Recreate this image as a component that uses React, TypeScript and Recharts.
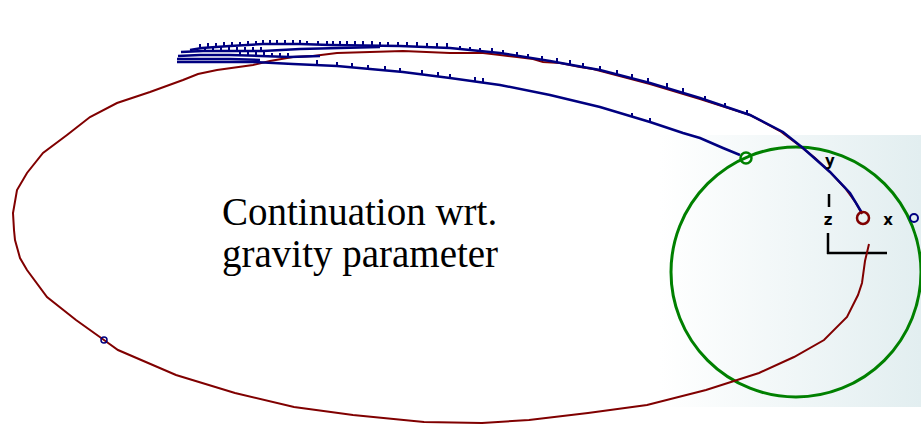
import {
  ScatterChart,
  Scatter,
  XAxis,
  YAxis,
  ReferenceArea,
  ReferenceDot,
  ReferenceLine
} from 'recharts';

// all positions in plot units: x to the right, y downward (0..921 x 0..425)
const redOrbit = [
  [862, 214], [856, 203], [845, 188], [830, 172], [815, 158], [800, 146], [780, 131],
  [750, 115], [700, 99], [650, 84], [593, 69], [580, 67], [560, 63], [543, 62], [533, 59],
  [517, 57], [500, 55], [483, 53], [450, 53], [403, 51], [370, 52], [337, 53], [313, 56],
  [293, 57], [270, 61], [253, 65], [217, 70], [198, 74], [183, 80], [150, 92], [117, 103],
  [90, 117], [67, 135], [43, 153], [27, 173], [17, 190], [13, 213], [14, 230], [15, 240],
  [20, 258], [27, 270], [47, 297], [76, 320], [104, 340], [118, 350], [176, 375],
  [235, 393], [294, 407], [353, 415], [424, 422], [482, 423], [529, 420], [588, 413],
  [647, 405], [706, 390], [759, 373], [794, 357], [824, 340], [847, 317], [858, 295],
  [862, 283], [865, 261], [869, 244]
];

const blueUpper = [
  [190, 50], [202, 48], [230, 46], [263, 44], [300, 44], [330, 45], [400, 46], [450, 48],
  [500, 53], [550, 61], [583, 67], [600, 70], [650, 83], [700, 98], [750, 115], [783, 132],
  [803, 148], [830, 172], [850, 193], [862, 213]
];

const blueMid = [
  [181, 52], [203, 51], [230, 51], [263, 51], [300, 49], [340, 48], [380, 47]
];

const blueInner = [
  [178, 56], [200, 55], [230, 55], [260, 56], [290, 57], [320, 56]
];

const blueInner2 = [
  [177, 59], [200, 59], [230, 59], [260, 60]
];

const blueLower = [
  [177, 62], [200, 62], [253, 62], [293, 64], [337, 66], [403, 72], [450, 78], [500, 85],
  [550, 95], [600, 107], [650, 122], [683, 133], [700, 138], [723, 148], [740, 155]
];

const blueTicks = [
  [263, 44], [270, 44], [277, 44], [285, 44], [293, 44], [300, 44], [307, 45], [318, 45],
  [327, 45], [333, 45], [340, 45], [347, 45], [355, 45], [363, 45], [372, 45], [380, 46],
  [388, 46], [398, 46], [407, 46], [417, 46], [427, 47], [437, 47], [447, 47], [460, 50],
  [470, 51], [480, 52], [492, 52], [503, 54], [517, 56], [528, 58], [542, 60], [557, 62],
  [570, 64], [583, 67], [600, 70], [617, 74], [632, 78], [648, 82], [667, 87], [683, 92],
  [705, 100], [725, 107], [747, 114],
  [317, 64], [337, 66], [352, 67], [368, 69], [385, 70], [400, 72], [422, 74], [438, 76],
  [450, 78], [475, 81], [483, 82], [632, 117], [650, 122],
  [200, 48], [208, 47], [216, 47], [224, 46], [232, 46], [240, 46], [248, 45], [256, 45],
  [205, 51], [213, 51], [221, 51], [229, 51], [237, 51], [245, 51], [253, 51], [261, 51],
  [240, 55], [248, 55], [256, 56], [264, 56], [272, 57], [280, 57], [288, 57]
];

const toPts = (arr: number[][]) => arr.map(([x, y]) => ({ x, y }));

const NoDot = () => <g />;

const Tick = (props: any) => (
  <line x1={props.cx} y1={props.cy} x2={props.cx} y2={props.cy - 4} stroke="#000080" strokeWidth={2} />
);

const Caption = (props: any) => {
  const { x, y } = props.viewBox;
  return (
    <text x={x} y={y} fontFamily="'Liberation Serif', 'Times New Roman', serif" fontSize={39} fill="#000">
      <tspan x={x}>Continuation wrt.</tspan>
      <tspan x={x} dy={42}>gravity parameter</tspan>
    </text>
  );
};

const glyph = (txt: string) => (props: any) => {
  const { x, y } = props.viewBox;
  return (
    <text x={x} y={y} textAnchor="middle" dominantBaseline="central"
      fontFamily="'DejaVu Sans', Arial, sans-serif" fontWeight="bold" fontSize={15} fill="#000">
      {txt}
    </text>
  );
};

const blueLine = { stroke: '#000080', strokeWidth: 2.5 };

export default function App() {
  return (
    <div style={{ position: 'absolute', left: 0, top: 0, width: 921, height: 425, background: '#fff' }}>
      <ScatterChart width={921} height={425} margin={{ top: 0, right: 0, bottom: 0, left: 0 }}>
        <defs>
          <linearGradient id="fade" x1="0" y1="0" x2="1" y2="0">
            <stop offset="0%" stopColor="#ffffff" />
            <stop offset="100%" stopColor="#e2eef0" />
          </linearGradient>
        </defs>
        <XAxis type="number" dataKey="x" domain={[0, 921]} hide allowDataOverflow />
        <YAxis type="number" dataKey="y" domain={[0, 425]} reversed hide allowDataOverflow />
        <ReferenceArea x1={660} x2={921} y1={135} y2={407} fill="url(#fade)" fillOpacity={1} stroke="none" />
        <ReferenceDot x={796} y={272} r={125} fill="none" stroke="#008000" strokeWidth={3} />
        <Scatter data={toPts(redOrbit)} shape={NoDot} line={{ stroke: '#800000', strokeWidth: 2 }} isAnimationActive={false} />
        <Scatter data={toPts(blueLower)} shape={NoDot} line={blueLine} isAnimationActive={false} />
        <Scatter data={toPts(blueInner2)} shape={NoDot} line={blueLine} isAnimationActive={false} />
        <Scatter data={toPts(blueInner)} shape={NoDot} line={blueLine} isAnimationActive={false} />
        <Scatter data={toPts(blueMid)} shape={NoDot} line={blueLine} isAnimationActive={false} />
        <Scatter data={toPts(blueUpper)} shape={NoDot} line={blueLine} isAnimationActive={false} />
        <Scatter data={toPts(blueTicks)} shape={Tick} isAnimationActive={false} />
        <ReferenceDot x={746} y={158} r={5.5} fill="none" stroke="#008000" strokeWidth={2.5} />
        <ReferenceDot x={863} y={218} r={6} fill="none" stroke="#800000" strokeWidth={2.5} />
        <ReferenceDot x={914} y={218} r={4} fill="none" stroke="#000080" strokeWidth={2} />
        <ReferenceDot x={104} y={340} r={3} fill="none" stroke="#000080" strokeWidth={1.5} />
        <ReferenceLine segment={[{ x: 828, y: 233 }, { x: 828, y: 254 }]} stroke="#000" strokeWidth={2.5} />
        <ReferenceLine segment={[{ x: 827, y: 253 }, { x: 887, y: 253 }]} stroke="#000" strokeWidth={2.5} />
        <ReferenceLine segment={[{ x: 829, y: 194 }, { x: 829, y: 207 }]} stroke="#000" strokeWidth={2.5} />
        <ReferenceDot x={830} y={161} r={0} fill="none" stroke="none" label={{ content: glyph('y') }} />
        <ReferenceDot x={828} y={220} r={0} fill="none" stroke="none" label={{ content: glyph('z') }} />
        <ReferenceDot x={888} y={220} r={0} fill="none" stroke="none" label={{ content: glyph('x') }} />
        <ReferenceDot x={222} y={225} r={0} fill="none" stroke="none" label={{ content: Caption }} />
      </ScatterChart>
    </div>
  );
}
